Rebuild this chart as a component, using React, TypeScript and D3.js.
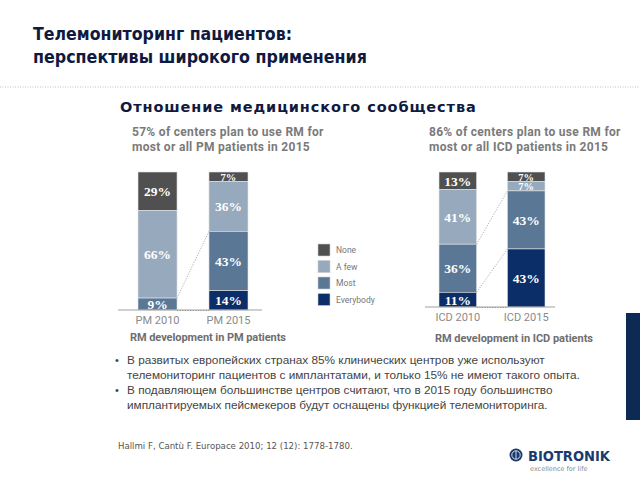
import React from "react";
import * as d3 from "d3";

const categories = ["None", "A few", "Most", "Everybody"];
const colors = ["#505050", "#97aabd", "#5a7896", "#0c2e68"];

const pmGroups = ["PM 2010", "PM 2015"];
const pm2010 = [29, 66, 9, 0];
const pm2015 = [7, 36, 43, 14];

const icdGroups = ["ICD 2010", "ICD 2015"];
const icd2010 = [13, 41, 36, 11];
const icd2015 = [7, 7, 43, 43];

const titleLines = ["Телемониторинг пациентов:", "перспективы широкого применения"];
const subtitle = "Отношение медицинского сообщества";
const pmHeadline = ["57% of centers plan to use RM for", "most or all PM patients in 2015"];
const icdHeadline = ["86% of centers plan to use RM for", "most or all ICD patients in 2015"];
const pmCaption = "RM development in PM patients";
const icdCaption = "RM development in ICD patients";
const bullets = [
  ["В развитых европейских странах 85% клинических центров уже используют", "телемониторинг пациентов с имплантатами, и только 15% не имеют такого опыта."],
  ["В подавляющем большинстве центров считают, что в 2015 году большинство", "имплантируемых пейсмекеров будут оснащены функцией телемониторинга."],
];
const citation = "Hallmi F, Cantù F. Europace 2010; 12 (12): 1778-1780.";

type ChartProps = {
  groups: string[];
  values: number[][];
  x0: number;
  x1: number;
  top: number;
  base: number;
  axis: [number, number];
  links: number[];
};

function StackChart({ groups, values, x0, x1, top, base, axis, links }: ChartProps) {
  const rows = groups.map((g, i) => {
    const r: any = { group: g };
    categories.forEach((c, j) => (r[c] = values[i][j]));
    return r;
  });
  const series = d3
    .stack<any>()
    .keys(categories)
    .order(d3.stackOrderReverse)
    .offset(d3.stackOffsetExpand)(rows);
  const x = d3.scaleBand().domain(groups).range([x0, x1]).paddingInner(0.45).paddingOuter(0);
  const y = d3.scaleLinear().domain([0, 1]).range([base, top]);
  const bw = x.bandwidth();
  const byKey: Record<string, any> = {};
  series.forEach((s) => (byKey[s.key] = s));

  return (
    <g>
      {series.map((s) => {
        const ci = categories.indexOf(s.key);
        return s.map((d, i) => {
          const v = values[i][ci];
          if (!v) return null;
          const yt = y(d[1]);
          const yb = y(d[0]);
          const h = yb - yt;
          const fs = h < 11 ? 10.5 : 13.5;
          return (
            <g key={s.key + i}>
              <rect x={x(groups[i])} y={yt} width={bw} height={h} fill={colors[ci]} stroke="#e4e4e4" strokeWidth={0.6} />
              <text
                x={(x(groups[i]) as number) + bw / 2}
                y={(yt + yb) / 2 + fs * 0.36}
                textAnchor="middle"
                fill="#fff"
                fontFamily="'Liberation Serif', serif"
                fontWeight="bold"
                fontSize={fs}
              >
                {v}%
              </text>
            </g>
          );
        });
      })}
      {links.map((ci) => {
        const s = byKey[categories[ci]];
        return (
          <line
            key={"l" + ci}
            x1={(x(groups[0]) as number) + bw}
            y1={y(s[0][1])}
            x2={x(groups[1]) as number}
            y2={y(s[1][1])}
            stroke="#9a9a9a"
            strokeWidth={0.8}
            strokeDasharray="1.2,1.4"
          />
        );
      })}
      <line x1={axis[0]} x2={axis[1]} y1={base} y2={base} stroke="#a0a0a0" strokeWidth={1} />
      <line
        x1={(x(groups[0]) as number) + bw}
        x2={x(groups[1]) as number}
        y1={base + 0.5}
        y2={base + 0.5}
        stroke="#888"
        strokeWidth={0.9}
        strokeDasharray="1.2,1.4"
      />
      {groups.map((g) => (
        <text
          key={g}
          x={(x(g) as number) + bw / 2}
          y={base + 14}
          textAnchor="middle"
          fill="#8a8a8a"
          fontFamily="Roboto, sans-serif"
          fontSize={11}
        >
          {g}
        </text>
      ))}
    </g>
  );
}

export default function App() {
  const titleWidths = [259, 334];
  return (
    <svg
      width={640}
      height={480}
      style={{ position: "absolute", left: 0, top: 0, background: "#fff" }}
      xmlns="http://www.w3.org/2000/svg"
    >
      <rect width={640} height={480} fill="#fff" />
      {titleLines.map((t, i) => (
        <text
          key={t}
          x={33}
          y={40 + i * 23}
          fill="#101a40"
          fontFamily="'DejaVu Sans', sans-serif"
          fontWeight="bold"
          fontSize={17.5}
          textLength={titleWidths[i]}
          lengthAdjust="spacingAndGlyphs"
        >
          {t}
        </text>
      ))}
      <line x1={0} x2={640} y1={87} y2={87} stroke="#b0b0b0" strokeWidth={0.8} strokeDasharray="1,1.5" />
      <text
        x={120}
        y={112}
        fill="#101a40"
        fontFamily="'DejaVu Sans', sans-serif"
        fontWeight="bold"
        fontSize={14.5}
        letterSpacing={0.9}
      >
        {subtitle}
      </text>
      {pmHeadline.map((t, i) => (
        <text key={t} x={132} y={136 + i * 15} fill="#7a7a7a" fontFamily="Roboto, sans-serif" fontWeight="bold" fontSize={12} letterSpacing={0.3}>
          {t}
        </text>
      ))}
      {icdHeadline.map((t, i) => (
        <text key={t} x={429} y={136 + i * 15} fill="#7a7a7a" fontFamily="Roboto, sans-serif" fontWeight="bold" fontSize={12} letterSpacing={0.3}>
          {t}
        </text>
      ))}
      <StackChart
        groups={pmGroups}
        values={[pm2010, pm2015]}
        x0={138}
        x1={248}
        top={172}
        base={310}
        axis={[118, 262]}
        links={[2]}
      />
      <StackChart
        groups={icdGroups}
        values={[icd2010, icd2015]}
        x0={439}
        x1={545}
        top={172}
        base={307}
        axis={[425, 555]}
        links={[2, 3]}
      />
      <text x={130} y={341} fill="#6e6e6e" fontFamily="Roboto, sans-serif" fontWeight="bold" fontSize={11} textLength={156} lengthAdjust="spacing">
        {pmCaption}
      </text>
      <text x={435} y={342} fill="#6e6e6e" fontFamily="Roboto, sans-serif" fontWeight="bold" fontSize={11} textLength={158} lengthAdjust="spacing">
        {icdCaption}
      </text>
      {categories.map((c, i) => (
        <g key={c}>
          <rect x={318} y={244 + i * 16.5} width={12} height={12} fill={colors[i]} stroke="#ccc" strokeWidth={0.6} />
          <text x={336} y={253 + i * 16.5} fill="#777" fontFamily="Roboto, sans-serif" fontSize={8.5}>
            {c}
          </text>
        </g>
      ))}
      {bullets.map((b, bi) =>
        b.map((line, li) => (
          <g key={bi + "-" + li}>
            {li === 0 && (
              <text x={115} y={364 + bi * 30} fill="#444" fontFamily="'Liberation Sans', Arial, sans-serif" fontSize={11}>
                •
              </text>
            )}
            <text x={127} y={364 + bi * 30 + li * 14.5} fill="#444" fontFamily="'Liberation Sans', Arial, sans-serif" fontSize={11.8}>
              {line}
            </text>
          </g>
        ))
      )}
      <text x={118} y={449} fill="#555" fontFamily="'DejaVu Sans', sans-serif" fontSize={8.6}>
        {citation}
      </text>
      <rect x={626} y={313} width={14} height={107} fill="#0d2a55" />
      <circle cx={516} cy={455} r={6.5} fill="#1a3a6e" />
      <circle cx={516} cy={455} r={4.2} fill="none" stroke="#fff" strokeWidth={0.8} />
      <line x1={516} x2={516} y1={450.8} y2={459.2} stroke="#fff" strokeWidth={0.8} />
      <text x={528} y={461} fill="#1a3a6e" fontFamily="'DejaVu Sans', sans-serif" fontWeight="bold" fontSize={13.5} textLength={82} lengthAdjust="spacingAndGlyphs">
        BIOTRONIK
      </text>
      <text x={530} y={471} fill="#888" fontFamily="'DejaVu Sans', sans-serif" fontSize={6.5}>
        excellence for life
      </text>
    </svg>
  );
}
